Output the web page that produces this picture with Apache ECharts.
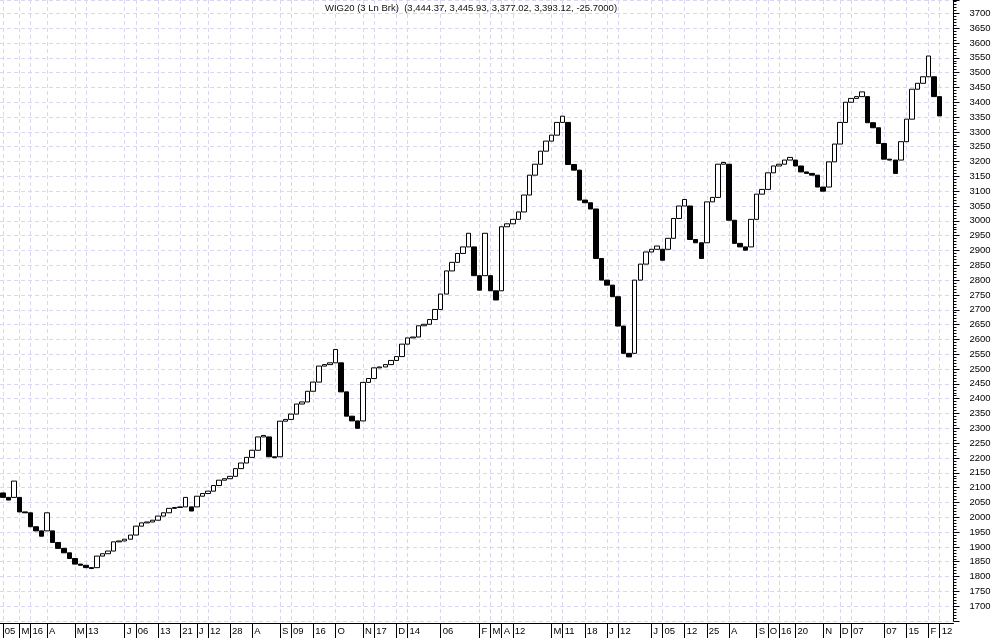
<!DOCTYPE html>
<html><head><meta charset="utf-8">
<script src="https://cdn.jsdelivr.net/npm/echarts@6/dist/echarts.min.js"></script>
<style>html,body{margin:0;padding:0;background:#fff}#c{width:994px;height:638px}</style>
</head><body><div id="c"></div>
<script>
// ---- data ----
const titleText = 'WIG20 (3 Ln Brk)  (3,444.37, 3,445.93, 3,377.02, 3,393.12, -25.7000)';
const firstOpen = 2082;
const brickCloses = [
  2067, 2058, 2122, 2018, 2015, 1968, 1954, 1936, 2015, 1915,
  1895, 1880, 1861, 1842, 1838, 1830, 1827, 1869, 1877, 1886,
  1917, 1920, 1926, 1940, 1970, 1981, 1984, 1990, 2004, 2015,
  2030, 2033, 2035, 2067, 2021, 2071, 2080, 2088, 2107, 2125,
  2130, 2138, 2164, 2183, 2202, 2226, 2271, 2276, 2204, 2201,
  2324, 2330, 2348, 2382, 2389, 2425, 2456, 2510, 2515, 2521,
  2566, 2423, 2341, 2325, 2300, 2455, 2468, 2504, 2507, 2515,
  2529, 2542, 2584, 2605, 2608, 2646, 2651, 2667, 2701, 2753,
  2831, 2860, 2890, 2912, 2958, 2815, 2766, 2958, 2764, 2733,
  2980, 2990, 3005, 3030, 3087, 3154, 3191, 3235, 3269, 3289,
  3332, 3353, 3190, 3171, 3070, 3061, 3040, 2873, 2800, 2783,
  2744, 2645, 2553, 2541, 2800, 2854, 2895, 2904, 2915, 2867,
  2941, 3008, 3050, 3072, 2937, 2926, 2873, 3064, 3079, 3191,
  3197, 3002, 2924, 2912, 2901, 3005, 3090, 3106, 3162, 3185,
  3191, 3205, 3214, 3185, 3165, 3160, 3154, 3114, 3100, 3199,
  3259, 3332, 3400, 3413, 3419, 3435, 3331, 3314, 3261, 3208,
  3205, 3160, 3267, 3343, 3444, 3464, 3486, 3556, 3419, 3354
];
const emptySlots = 2;
const labelBricks = [1,4,6,9,14,16,23,25,29,33,36,38,42,46,51,53,57,61,66,68,
  72,74,80,87,89,91,93,100,102,106,110,112,118,120,124,128,132,137,139,141,
  144,149,152,154,160,164,168,170];
const labelTexts = ['05','M','16','A','M','13','J','06','13','21','J','12','28','A','S','09','16','O','N','17',
  'D','14','06','F','M','A','12','M','11','18','J','12','J','05','12','25','A','S','O','16',
  '20','N','D','07','07','15','F','12'];
const yMin = 1650, yMax = 3745, yStep = 50;

// ---- build ----
const categories = new Array(brickCloses.length + emptySlots).fill('');
labelBricks.forEach((b, i) => { categories[b - 1] = labelTexts[i]; });

const bricks = [];
let prevO = firstOpen, prevC = firstOpen;
brickCloses.forEach((c, i) => {
  let o;
  if (i === 0) o = firstOpen;
  else {
    const top = Math.max(prevO, prevC), bot = Math.min(prevO, prevC);
    o = c > top ? top : bot;
  }
  bricks.push([o, c, Math.min(o, c), Math.max(o, c)]);
  prevO = o; prevC = c;
});

const gridColor = '#d8d6f2';
const font = 'Arial, "Liberation Sans", sans-serif';
const isLabelled = (idx, val) => val !== '';

const chart = echarts.init(document.getElementById('c'), null, {renderer: 'canvas'});
chart.setOption({
  animation: false,
  backgroundColor: '#fff',
  title: {
    text: titleText, left: 320, top: -2,
    textStyle: {fontSize: 9.5, fontWeight: 'normal', color: '#111', fontFamily: font}
  },
  grid: {left: 0, right: 40.5, top: 0, bottom: 17, containLabel: false},
  xAxis: {
    type: 'category', data: categories, boundaryGap: true, offset: 2,
    axisLine: {onZero: false, lineStyle: {color: '#000', width: 1}},
    axisTick: {show: true, interval: isLabelled, alignWithLabel: true, length: 15, lineStyle: {color: '#000'}},
    axisLabel: {interval: isLabelled, align: 'left', margin: 3, padding: [0, 0, 0, 2],
      fontSize: 9.5, color: '#000', fontFamily: font},
    splitLine: {show: true, interval: isLabelled, alignWithLabel: true,
      lineStyle: {color: gridColor, type: [4, 3], width: 1}}
  },
  yAxis: {
    type: 'value', position: 'right', min: yMin, max: yMax, interval: yStep,
    axisLine: {show: true, lineStyle: {color: '#000'}},
    axisTick: {show: true, length: 6, lineStyle: {color: '#000'}},
    minorTick: {show: true, splitNumber: 5, length: 3, lineStyle: {color: '#000'}},
    axisLabel: {margin: 16, fontSize: 9.5, color: '#000', fontFamily: font,
      showMinLabel: false, showMaxLabel: false, formatter: v => String(v)},
    splitLine: {show: true, lineStyle: {color: gridColor, type: [4, 3], width: 1}}
  },
  series: [{
    type: 'candlestick',
    data: bricks,
    barWidth: 5,
    itemStyle: {color: '#fff', color0: '#000', borderColor: '#000', borderColor0: '#000', borderWidth: 1}
  }]
});
</script>
</body></html>
